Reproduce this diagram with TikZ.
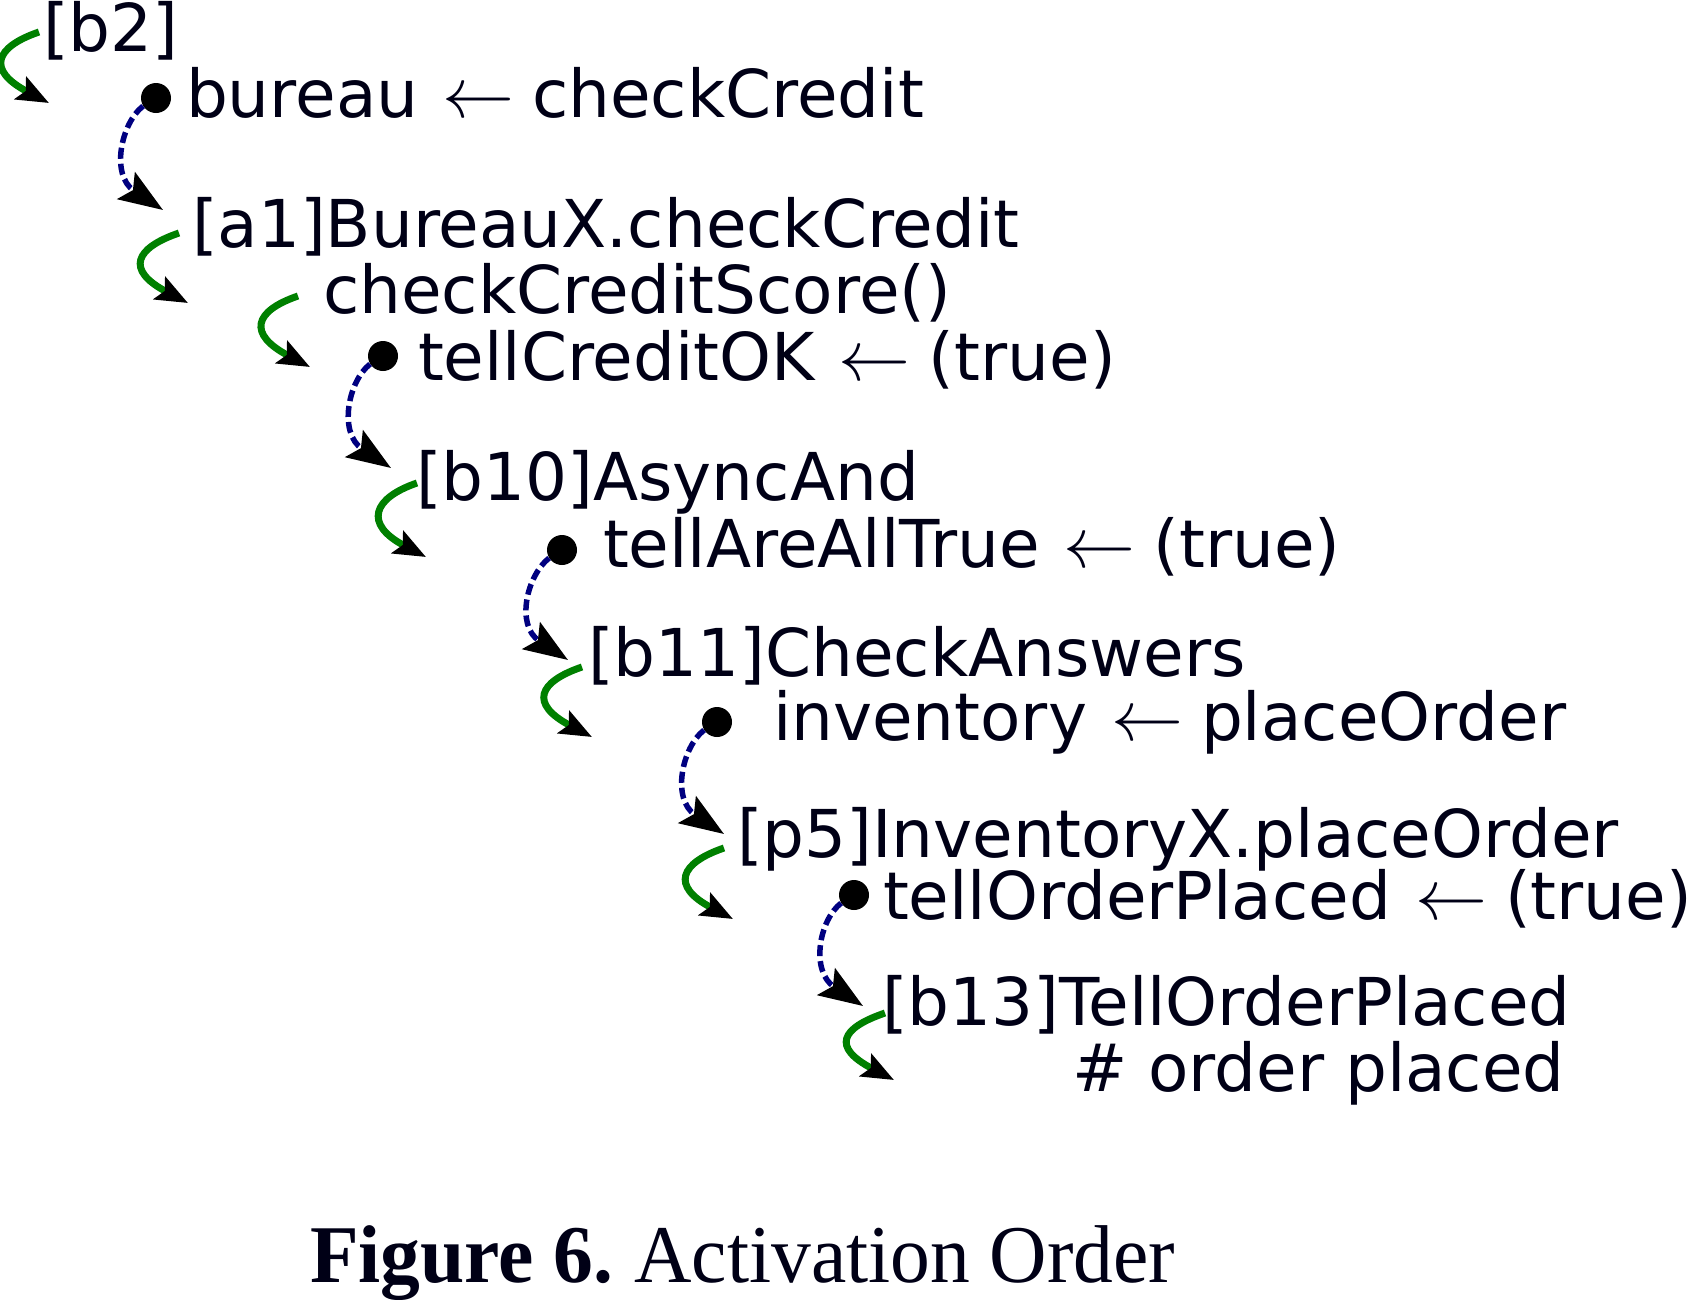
\documentclass[tikz,border=0pt]{standalone}
\usepackage{graphicx}
\usepackage{fontspec}
\setmainfont{DejaVu Sans}
\newfontfamily\capfont{Liberation Serif}
\usetikzlibrary{arrows.meta}
\definecolor{arrgreen}{RGB}{0,128,0}
\definecolor{arrblue}{RGB}{0,0,128}
\definecolor{txtcol}{RGB}{0,0,22}
\newcommand\larr{\hspace{3pt}\scalebox{7.2}{\fontsize{10}{12}\selectfont$\leftarrow$}\hspace{-3pt}}
\tikzset{
  lbl/.style={anchor=base west, inner sep=0pt, outer sep=0pt, text=txtcol,
    font=\fontsize{66}{79}\selectfont},
  dotst/.style={circle, fill=black, inner sep=0pt, minimum size=30pt},
  greenarr/.style={draw=arrgreen, line width=7pt,
    -{Stealth[length=32pt,width=25pt,inset=6pt,color=black]}},
  bluearr/.style={draw=arrblue, line width=5.5pt, dash pattern=on 11pt off 5pt,
    -{Stealth[length=44pt,width=32pt,inset=8pt,color=black]}},
}
\begin{document}
\begin{tikzpicture}[x=1pt,y=-1pt]
\useasboundingbox (0,0) rectangle (1689,1299);
% labels
\node[lbl] (t1) at (43,51) {[b2]};
\node[dotst] (d1) at (156,98) {};
\node[lbl] (t2) at (186,117) {bureau \larr{} checkCredit};
\node[lbl] (t3) at (192,247) {[a1]BureauX.checkCredit};
\node[lbl] (t4) at (323,313) {checkCreditScore()};
\node[dotst] (d2) at (383,356) {};
\node[lbl] (t5) at (418,380) {tellCreditOK \larr{} (true)};
\node[lbl] (t6) at (416,500) {[b10]AsyncAnd};
\node[dotst] (d3) at (562,550) {};
\node[lbl] (t7) at (603,567) {tellAreAllTrue \larr{} (true)};
\node[lbl] (t8) at (588,676) {[b11]CheckAnswers};
\node[dotst] (d4) at (717,722) {};
\node[lbl] (t9) at (773,740) {inventory \larr{} placeOrder};
\node[lbl] (t10) at (737,857) {[p5]InventoryX.placeOrder};
\node[dotst] (d5) at (854,895) {};
\node[lbl] (t11) at (883,919) {tellOrderPlaced \larr{} (true)};
\node[lbl] (t12) at (882,1025) {[b13]TellOrderPlaced};
\node[lbl] (t13) at (1072,1091) {\# order placed};
\node[anchor=base west, inner sep=0pt, text=txtcol, xscale=0.97,
  font=\capfont\fontsize{82}{98}\selectfont] (cap) at (310,1282)
  {\textbf{Figure 6.}\hspace{-6pt} Activation Order};
% coordinates for green arrows
\coordinate (gs1) at (39,32);   \coordinate (ge1) at (49,103);
\coordinate (gs2) at (179,233); \coordinate (ge2) at (188,303);
\coordinate (gs3) at (298,296); \coordinate (ge3) at (310,367);
\coordinate (gs4) at (417,483); \coordinate (ge4) at (426,557);
\coordinate (gs5) at (582,667); \coordinate (ge5) at (592,737);
\coordinate (gs6) at (724,848); \coordinate (ge6) at (733,919);
\coordinate (gs7) at (885,1013);\coordinate (ge7) at (894,1080);
\foreach \i in {1,...,7}{
  \draw[greenarr] (gs\i) .. controls +(-44,15) and +(-63,-33) .. (ge\i);
}
% coordinates for blue arrows
\coordinate (be1) at (163,210);
\coordinate (be2) at (391,468);
\coordinate (be3) at (568,660);
\coordinate (be4) at (724,834);
\coordinate (be5) at (863,1006);
\foreach \i in {1,...,5}{
  \draw[bluearr] (d\i.212) .. controls +(-22,17) and +(-53,-35) .. (be\i);
}
\end{tikzpicture}
\end{document}
